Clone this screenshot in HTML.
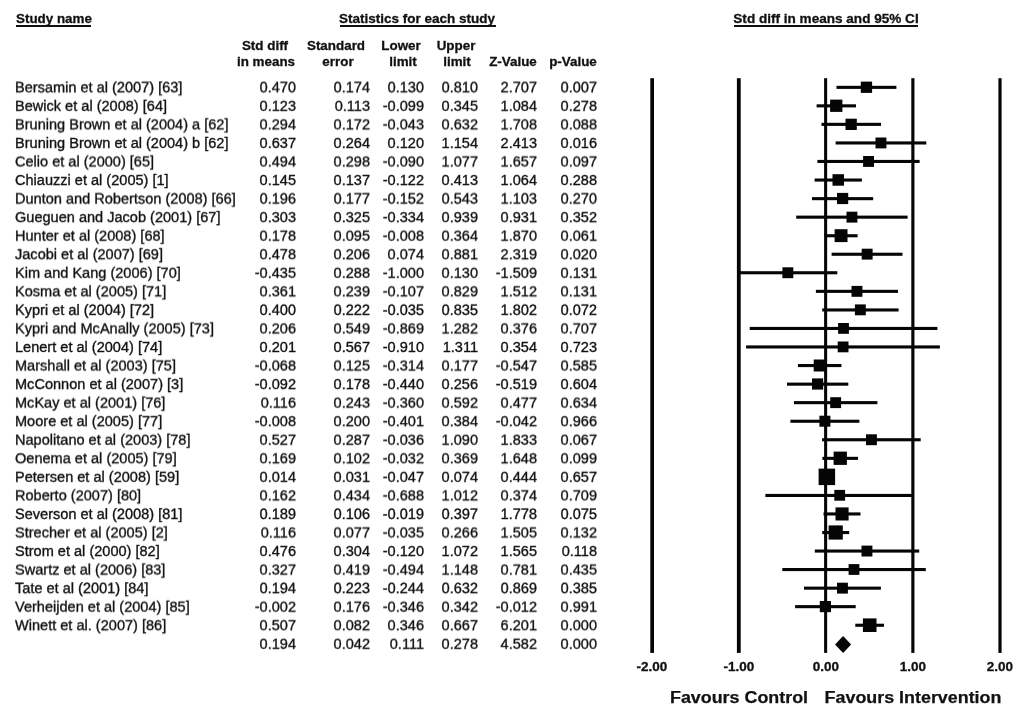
<!DOCTYPE html>
<html><head><meta charset="utf-8"><title>Forest plot</title>
<style>
html,body{margin:0;padding:0;background:#fff;}
body{width:1019px;height:712px;position:relative;overflow:hidden;font-family:"Liberation Sans",sans-serif;color:#111;}
.t{position:absolute;white-space:nowrap;line-height:1;}
.r{font-size:14.9px;transform:scaleX(0.977);-webkit-text-stroke:0.35px #111;}
.l{transform-origin:0 50%;}
.rt{transform-origin:100% 50%;text-align:right;}
.b{font-weight:bold;font-size:13.0px;transform:scaleX(1.03);-webkit-text-stroke:0.3px #111;}
.c{transform-origin:50% 50%;text-align:center;}
.u{position:absolute;background:#111;height:1.7px;}
svg{position:absolute;left:0;top:0;}
.row{position:absolute;left:0;top:0;width:620px;height:20px;}
</style></head><body><div id="wrap" style="position:absolute;left:0;top:0;width:1019px;height:712px;will-change:transform;">

<div class="t b l" style="left:15.6px;top:11.90px">Study name</div>
<div class="u" style="left:15.9px;top:25.2px;width:75.4px"></div>
<div class="t b c" style="left:316.8px;width:200px;transform:scaleX(1.038);top:12.00px">Statistics for each study</div>
<div class="u" style="left:339.5px;top:25.2px;width:156.4px"></div>
<div class="t b c" style="left:725.6px;width:200px;transform:scaleX(1.043);top:12.00px">Std diff in means and 95% CI</div>
<div class="u" style="left:733.5px;top:25.2px;width:184px"></div>
<div class="t b c" style="left:214.60px;width:100px;top:39.00px">Std diff</div>
<div class="t b c" style="left:216.30px;width:100px;top:55.00px">in means</div>
<div class="t b c" style="left:286.10px;width:100px;top:39.00px">Standard</div>
<div class="t b c" style="left:288.10px;width:100px;top:55.00px">error</div>
<div class="t b c" style="left:350.90px;width:100px;top:39.00px">Lower</div>
<div class="t b c" style="left:352.80px;width:100px;top:55.00px">limit</div>
<div class="t b c" style="left:405.90px;width:100px;top:39.00px">Upper</div>
<div class="t b c" style="left:406.90px;width:100px;top:55.00px">limit</div>
<div class="t b c" style="left:463.00px;width:100px;top:55.00px">Z-Value</div>
<div class="t b c" style="left:523.35px;width:100px;top:55.00px">p-Value</div>
<div class="row" style="transform:translateY(80.30px) matrix3d(1,0,0,0,0,1,0,0.00001,0,0,1,0,0,0,0,1)">
<div class="t r l" style="left:15.4px;top:0">Bersamin et al (2007) [63]</div>
<div class="t r rt" style="left:196.0px;width:100px;top:0">0.470</div>
<div class="t r rt" style="left:269.5px;width:100px;top:0">0.174</div>
<div class="t r rt" style="left:324.2px;width:100px;top:0">0.130</div>
<div class="t r rt" style="left:377.8px;width:100px;top:0">0.810</div>
<div class="t r rt" style="left:437.4px;width:100px;top:0">2.707</div>
<div class="t r rt" style="left:496.8px;width:100px;top:0">0.007</div>
</div>
<div class="row" style="transform:translateY(98.85px) matrix3d(1,0,0,0,0,1,0,0.00001,0,0,1,0,0,0,0,1)">
<div class="t r l" style="left:15.4px;top:0">Bewick et al (2008) [64]</div>
<div class="t r rt" style="left:196.0px;width:100px;top:0">0.123</div>
<div class="t r rt" style="left:269.5px;width:100px;top:0">0.113</div>
<div class="t r rt" style="left:324.2px;width:100px;top:0">-0.099</div>
<div class="t r rt" style="left:377.8px;width:100px;top:0">0.345</div>
<div class="t r rt" style="left:437.4px;width:100px;top:0">1.084</div>
<div class="t r rt" style="left:496.8px;width:100px;top:0">0.278</div>
</div>
<div class="row" style="transform:translateY(117.40px) matrix3d(1,0,0,0,0,1,0,0.00001,0,0,1,0,0,0,0,1)">
<div class="t r l" style="left:15.4px;top:0">Bruning Brown et al (2004) a [62]</div>
<div class="t r rt" style="left:196.0px;width:100px;top:0">0.294</div>
<div class="t r rt" style="left:269.5px;width:100px;top:0">0.172</div>
<div class="t r rt" style="left:324.2px;width:100px;top:0">-0.043</div>
<div class="t r rt" style="left:377.8px;width:100px;top:0">0.632</div>
<div class="t r rt" style="left:437.4px;width:100px;top:0">1.708</div>
<div class="t r rt" style="left:496.8px;width:100px;top:0">0.088</div>
</div>
<div class="row" style="transform:translateY(135.95px) matrix3d(1,0,0,0,0,1,0,0.00001,0,0,1,0,0,0,0,1)">
<div class="t r l" style="left:15.4px;top:0">Bruning Brown et al (2004) b [62]</div>
<div class="t r rt" style="left:196.0px;width:100px;top:0">0.637</div>
<div class="t r rt" style="left:269.5px;width:100px;top:0">0.264</div>
<div class="t r rt" style="left:324.2px;width:100px;top:0">0.120</div>
<div class="t r rt" style="left:377.8px;width:100px;top:0">1.154</div>
<div class="t r rt" style="left:437.4px;width:100px;top:0">2.413</div>
<div class="t r rt" style="left:496.8px;width:100px;top:0">0.016</div>
</div>
<div class="row" style="transform:translateY(154.50px) matrix3d(1,0,0,0,0,1,0,0.00001,0,0,1,0,0,0,0,1)">
<div class="t r l" style="left:15.4px;top:0">Celio et al (2000) [65]</div>
<div class="t r rt" style="left:196.0px;width:100px;top:0">0.494</div>
<div class="t r rt" style="left:269.5px;width:100px;top:0">0.298</div>
<div class="t r rt" style="left:324.2px;width:100px;top:0">-0.090</div>
<div class="t r rt" style="left:377.8px;width:100px;top:0">1.077</div>
<div class="t r rt" style="left:437.4px;width:100px;top:0">1.657</div>
<div class="t r rt" style="left:496.8px;width:100px;top:0">0.097</div>
</div>
<div class="row" style="transform:translateY(173.05px) matrix3d(1,0,0,0,0,1,0,0.00001,0,0,1,0,0,0,0,1)">
<div class="t r l" style="left:15.4px;top:0">Chiauzzi et al (2005) [1]</div>
<div class="t r rt" style="left:196.0px;width:100px;top:0">0.145</div>
<div class="t r rt" style="left:269.5px;width:100px;top:0">0.137</div>
<div class="t r rt" style="left:324.2px;width:100px;top:0">-0.122</div>
<div class="t r rt" style="left:377.8px;width:100px;top:0">0.413</div>
<div class="t r rt" style="left:437.4px;width:100px;top:0">1.064</div>
<div class="t r rt" style="left:496.8px;width:100px;top:0">0.288</div>
</div>
<div class="row" style="transform:translateY(191.60px) matrix3d(1,0,0,0,0,1,0,0.00001,0,0,1,0,0,0,0,1)">
<div class="t r l" style="left:15.4px;top:0">Dunton and Robertson (2008) [66]</div>
<div class="t r rt" style="left:196.0px;width:100px;top:0">0.196</div>
<div class="t r rt" style="left:269.5px;width:100px;top:0">0.177</div>
<div class="t r rt" style="left:324.2px;width:100px;top:0">-0.152</div>
<div class="t r rt" style="left:377.8px;width:100px;top:0">0.543</div>
<div class="t r rt" style="left:437.4px;width:100px;top:0">1.103</div>
<div class="t r rt" style="left:496.8px;width:100px;top:0">0.270</div>
</div>
<div class="row" style="transform:translateY(210.15px) matrix3d(1,0,0,0,0,1,0,0.00001,0,0,1,0,0,0,0,1)">
<div class="t r l" style="left:15.4px;top:0">Gueguen and Jacob (2001) [67]</div>
<div class="t r rt" style="left:196.0px;width:100px;top:0">0.303</div>
<div class="t r rt" style="left:269.5px;width:100px;top:0">0.325</div>
<div class="t r rt" style="left:324.2px;width:100px;top:0">-0.334</div>
<div class="t r rt" style="left:377.8px;width:100px;top:0">0.939</div>
<div class="t r rt" style="left:437.4px;width:100px;top:0">0.931</div>
<div class="t r rt" style="left:496.8px;width:100px;top:0">0.352</div>
</div>
<div class="row" style="transform:translateY(228.70px) matrix3d(1,0,0,0,0,1,0,0.00001,0,0,1,0,0,0,0,1)">
<div class="t r l" style="left:15.4px;top:0">Hunter et al (2008) [68]</div>
<div class="t r rt" style="left:196.0px;width:100px;top:0">0.178</div>
<div class="t r rt" style="left:269.5px;width:100px;top:0">0.095</div>
<div class="t r rt" style="left:324.2px;width:100px;top:0">-0.008</div>
<div class="t r rt" style="left:377.8px;width:100px;top:0">0.364</div>
<div class="t r rt" style="left:437.4px;width:100px;top:0">1.870</div>
<div class="t r rt" style="left:496.8px;width:100px;top:0">0.061</div>
</div>
<div class="row" style="transform:translateY(247.25px) matrix3d(1,0,0,0,0,1,0,0.00001,0,0,1,0,0,0,0,1)">
<div class="t r l" style="left:15.4px;top:0">Jacobi et al (2007) [69]</div>
<div class="t r rt" style="left:196.0px;width:100px;top:0">0.478</div>
<div class="t r rt" style="left:269.5px;width:100px;top:0">0.206</div>
<div class="t r rt" style="left:324.2px;width:100px;top:0">0.074</div>
<div class="t r rt" style="left:377.8px;width:100px;top:0">0.881</div>
<div class="t r rt" style="left:437.4px;width:100px;top:0">2.319</div>
<div class="t r rt" style="left:496.8px;width:100px;top:0">0.020</div>
</div>
<div class="row" style="transform:translateY(265.80px) matrix3d(1,0,0,0,0,1,0,0.00001,0,0,1,0,0,0,0,1)">
<div class="t r l" style="left:15.4px;top:0">Kim and Kang (2006) [70]</div>
<div class="t r rt" style="left:196.0px;width:100px;top:0">-0.435</div>
<div class="t r rt" style="left:269.5px;width:100px;top:0">0.288</div>
<div class="t r rt" style="left:324.2px;width:100px;top:0">-1.000</div>
<div class="t r rt" style="left:377.8px;width:100px;top:0">0.130</div>
<div class="t r rt" style="left:437.4px;width:100px;top:0">-1.509</div>
<div class="t r rt" style="left:496.8px;width:100px;top:0">0.131</div>
</div>
<div class="row" style="transform:translateY(284.35px) matrix3d(1,0,0,0,0,1,0,0.00001,0,0,1,0,0,0,0,1)">
<div class="t r l" style="left:15.4px;top:0">Kosma et al (2005) [71]</div>
<div class="t r rt" style="left:196.0px;width:100px;top:0">0.361</div>
<div class="t r rt" style="left:269.5px;width:100px;top:0">0.239</div>
<div class="t r rt" style="left:324.2px;width:100px;top:0">-0.107</div>
<div class="t r rt" style="left:377.8px;width:100px;top:0">0.829</div>
<div class="t r rt" style="left:437.4px;width:100px;top:0">1.512</div>
<div class="t r rt" style="left:496.8px;width:100px;top:0">0.131</div>
</div>
<div class="row" style="transform:translateY(302.90px) matrix3d(1,0,0,0,0,1,0,0.00001,0,0,1,0,0,0,0,1)">
<div class="t r l" style="left:15.4px;top:0">Kypri et al (2004) [72]</div>
<div class="t r rt" style="left:196.0px;width:100px;top:0">0.400</div>
<div class="t r rt" style="left:269.5px;width:100px;top:0">0.222</div>
<div class="t r rt" style="left:324.2px;width:100px;top:0">-0.035</div>
<div class="t r rt" style="left:377.8px;width:100px;top:0">0.835</div>
<div class="t r rt" style="left:437.4px;width:100px;top:0">1.802</div>
<div class="t r rt" style="left:496.8px;width:100px;top:0">0.072</div>
</div>
<div class="row" style="transform:translateY(321.45px) matrix3d(1,0,0,0,0,1,0,0.00001,0,0,1,0,0,0,0,1)">
<div class="t r l" style="left:15.4px;top:0">Kypri and McAnally (2005) [73]</div>
<div class="t r rt" style="left:196.0px;width:100px;top:0">0.206</div>
<div class="t r rt" style="left:269.5px;width:100px;top:0">0.549</div>
<div class="t r rt" style="left:324.2px;width:100px;top:0">-0.869</div>
<div class="t r rt" style="left:377.8px;width:100px;top:0">1.282</div>
<div class="t r rt" style="left:437.4px;width:100px;top:0">0.376</div>
<div class="t r rt" style="left:496.8px;width:100px;top:0">0.707</div>
</div>
<div class="row" style="transform:translateY(340.00px) matrix3d(1,0,0,0,0,1,0,0.00001,0,0,1,0,0,0,0,1)">
<div class="t r l" style="left:15.4px;top:0">Lenert et al (2004) [74]</div>
<div class="t r rt" style="left:196.0px;width:100px;top:0">0.201</div>
<div class="t r rt" style="left:269.5px;width:100px;top:0">0.567</div>
<div class="t r rt" style="left:324.2px;width:100px;top:0">-0.910</div>
<div class="t r rt" style="left:377.8px;width:100px;top:0">1.311</div>
<div class="t r rt" style="left:437.4px;width:100px;top:0">0.354</div>
<div class="t r rt" style="left:496.8px;width:100px;top:0">0.723</div>
</div>
<div class="row" style="transform:translateY(358.55px) matrix3d(1,0,0,0,0,1,0,0.00001,0,0,1,0,0,0,0,1)">
<div class="t r l" style="left:15.4px;top:0">Marshall et al (2003) [75]</div>
<div class="t r rt" style="left:196.0px;width:100px;top:0">-0.068</div>
<div class="t r rt" style="left:269.5px;width:100px;top:0">0.125</div>
<div class="t r rt" style="left:324.2px;width:100px;top:0">-0.314</div>
<div class="t r rt" style="left:377.8px;width:100px;top:0">0.177</div>
<div class="t r rt" style="left:437.4px;width:100px;top:0">-0.547</div>
<div class="t r rt" style="left:496.8px;width:100px;top:0">0.585</div>
</div>
<div class="row" style="transform:translateY(377.10px) matrix3d(1,0,0,0,0,1,0,0.00001,0,0,1,0,0,0,0,1)">
<div class="t r l" style="left:15.4px;top:0">McConnon et al (2007) [3]</div>
<div class="t r rt" style="left:196.0px;width:100px;top:0">-0.092</div>
<div class="t r rt" style="left:269.5px;width:100px;top:0">0.178</div>
<div class="t r rt" style="left:324.2px;width:100px;top:0">-0.440</div>
<div class="t r rt" style="left:377.8px;width:100px;top:0">0.256</div>
<div class="t r rt" style="left:437.4px;width:100px;top:0">-0.519</div>
<div class="t r rt" style="left:496.8px;width:100px;top:0">0.604</div>
</div>
<div class="row" style="transform:translateY(395.65px) matrix3d(1,0,0,0,0,1,0,0.00001,0,0,1,0,0,0,0,1)">
<div class="t r l" style="left:15.4px;top:0">McKay et al (2001) [76]</div>
<div class="t r rt" style="left:196.0px;width:100px;top:0">0.116</div>
<div class="t r rt" style="left:269.5px;width:100px;top:0">0.243</div>
<div class="t r rt" style="left:324.2px;width:100px;top:0">-0.360</div>
<div class="t r rt" style="left:377.8px;width:100px;top:0">0.592</div>
<div class="t r rt" style="left:437.4px;width:100px;top:0">0.477</div>
<div class="t r rt" style="left:496.8px;width:100px;top:0">0.634</div>
</div>
<div class="row" style="transform:translateY(414.20px) matrix3d(1,0,0,0,0,1,0,0.00001,0,0,1,0,0,0,0,1)">
<div class="t r l" style="left:15.4px;top:0">Moore et al (2005) [77]</div>
<div class="t r rt" style="left:196.0px;width:100px;top:0">-0.008</div>
<div class="t r rt" style="left:269.5px;width:100px;top:0">0.200</div>
<div class="t r rt" style="left:324.2px;width:100px;top:0">-0.401</div>
<div class="t r rt" style="left:377.8px;width:100px;top:0">0.384</div>
<div class="t r rt" style="left:437.4px;width:100px;top:0">-0.042</div>
<div class="t r rt" style="left:496.8px;width:100px;top:0">0.966</div>
</div>
<div class="row" style="transform:translateY(432.75px) matrix3d(1,0,0,0,0,1,0,0.00001,0,0,1,0,0,0,0,1)">
<div class="t r l" style="left:15.4px;top:0">Napolitano et al (2003) [78]</div>
<div class="t r rt" style="left:196.0px;width:100px;top:0">0.527</div>
<div class="t r rt" style="left:269.5px;width:100px;top:0">0.287</div>
<div class="t r rt" style="left:324.2px;width:100px;top:0">-0.036</div>
<div class="t r rt" style="left:377.8px;width:100px;top:0">1.090</div>
<div class="t r rt" style="left:437.4px;width:100px;top:0">1.833</div>
<div class="t r rt" style="left:496.8px;width:100px;top:0">0.067</div>
</div>
<div class="row" style="transform:translateY(451.30px) matrix3d(1,0,0,0,0,1,0,0.00001,0,0,1,0,0,0,0,1)">
<div class="t r l" style="left:15.4px;top:0">Oenema et al (2005) [79]</div>
<div class="t r rt" style="left:196.0px;width:100px;top:0">0.169</div>
<div class="t r rt" style="left:269.5px;width:100px;top:0">0.102</div>
<div class="t r rt" style="left:324.2px;width:100px;top:0">-0.032</div>
<div class="t r rt" style="left:377.8px;width:100px;top:0">0.369</div>
<div class="t r rt" style="left:437.4px;width:100px;top:0">1.648</div>
<div class="t r rt" style="left:496.8px;width:100px;top:0">0.099</div>
</div>
<div class="row" style="transform:translateY(469.85px) matrix3d(1,0,0,0,0,1,0,0.00001,0,0,1,0,0,0,0,1)">
<div class="t r l" style="left:15.4px;top:0">Petersen et al (2008) [59]</div>
<div class="t r rt" style="left:196.0px;width:100px;top:0">0.014</div>
<div class="t r rt" style="left:269.5px;width:100px;top:0">0.031</div>
<div class="t r rt" style="left:324.2px;width:100px;top:0">-0.047</div>
<div class="t r rt" style="left:377.8px;width:100px;top:0">0.074</div>
<div class="t r rt" style="left:437.4px;width:100px;top:0">0.444</div>
<div class="t r rt" style="left:496.8px;width:100px;top:0">0.657</div>
</div>
<div class="row" style="transform:translateY(488.40px) matrix3d(1,0,0,0,0,1,0,0.00001,0,0,1,0,0,0,0,1)">
<div class="t r l" style="left:15.4px;top:0">Roberto (2007) [80]</div>
<div class="t r rt" style="left:196.0px;width:100px;top:0">0.162</div>
<div class="t r rt" style="left:269.5px;width:100px;top:0">0.434</div>
<div class="t r rt" style="left:324.2px;width:100px;top:0">-0.688</div>
<div class="t r rt" style="left:377.8px;width:100px;top:0">1.012</div>
<div class="t r rt" style="left:437.4px;width:100px;top:0">0.374</div>
<div class="t r rt" style="left:496.8px;width:100px;top:0">0.709</div>
</div>
<div class="row" style="transform:translateY(506.95px) matrix3d(1,0,0,0,0,1,0,0.00001,0,0,1,0,0,0,0,1)">
<div class="t r l" style="left:15.4px;top:0">Severson et al (2008) [81]</div>
<div class="t r rt" style="left:196.0px;width:100px;top:0">0.189</div>
<div class="t r rt" style="left:269.5px;width:100px;top:0">0.106</div>
<div class="t r rt" style="left:324.2px;width:100px;top:0">-0.019</div>
<div class="t r rt" style="left:377.8px;width:100px;top:0">0.397</div>
<div class="t r rt" style="left:437.4px;width:100px;top:0">1.778</div>
<div class="t r rt" style="left:496.8px;width:100px;top:0">0.075</div>
</div>
<div class="row" style="transform:translateY(525.50px) matrix3d(1,0,0,0,0,1,0,0.00001,0,0,1,0,0,0,0,1)">
<div class="t r l" style="left:15.4px;top:0">Strecher et al (2005) [2]</div>
<div class="t r rt" style="left:196.0px;width:100px;top:0">0.116</div>
<div class="t r rt" style="left:269.5px;width:100px;top:0">0.077</div>
<div class="t r rt" style="left:324.2px;width:100px;top:0">-0.035</div>
<div class="t r rt" style="left:377.8px;width:100px;top:0">0.266</div>
<div class="t r rt" style="left:437.4px;width:100px;top:0">1.505</div>
<div class="t r rt" style="left:496.8px;width:100px;top:0">0.132</div>
</div>
<div class="row" style="transform:translateY(544.05px) matrix3d(1,0,0,0,0,1,0,0.00001,0,0,1,0,0,0,0,1)">
<div class="t r l" style="left:15.4px;top:0">Strom et al (2000) [82]</div>
<div class="t r rt" style="left:196.0px;width:100px;top:0">0.476</div>
<div class="t r rt" style="left:269.5px;width:100px;top:0">0.304</div>
<div class="t r rt" style="left:324.2px;width:100px;top:0">-0.120</div>
<div class="t r rt" style="left:377.8px;width:100px;top:0">1.072</div>
<div class="t r rt" style="left:437.4px;width:100px;top:0">1.565</div>
<div class="t r rt" style="left:496.8px;width:100px;top:0">0.118</div>
</div>
<div class="row" style="transform:translateY(562.60px) matrix3d(1,0,0,0,0,1,0,0.00001,0,0,1,0,0,0,0,1)">
<div class="t r l" style="left:15.4px;top:0">Swartz et al (2006) [83]</div>
<div class="t r rt" style="left:196.0px;width:100px;top:0">0.327</div>
<div class="t r rt" style="left:269.5px;width:100px;top:0">0.419</div>
<div class="t r rt" style="left:324.2px;width:100px;top:0">-0.494</div>
<div class="t r rt" style="left:377.8px;width:100px;top:0">1.148</div>
<div class="t r rt" style="left:437.4px;width:100px;top:0">0.781</div>
<div class="t r rt" style="left:496.8px;width:100px;top:0">0.435</div>
</div>
<div class="row" style="transform:translateY(581.15px) matrix3d(1,0,0,0,0,1,0,0.00001,0,0,1,0,0,0,0,1)">
<div class="t r l" style="left:15.4px;top:0">Tate et al (2001) [84]</div>
<div class="t r rt" style="left:196.0px;width:100px;top:0">0.194</div>
<div class="t r rt" style="left:269.5px;width:100px;top:0">0.223</div>
<div class="t r rt" style="left:324.2px;width:100px;top:0">-0.244</div>
<div class="t r rt" style="left:377.8px;width:100px;top:0">0.632</div>
<div class="t r rt" style="left:437.4px;width:100px;top:0">0.869</div>
<div class="t r rt" style="left:496.8px;width:100px;top:0">0.385</div>
</div>
<div class="row" style="transform:translateY(599.70px) matrix3d(1,0,0,0,0,1,0,0.00001,0,0,1,0,0,0,0,1)">
<div class="t r l" style="left:15.4px;top:0">Verheijden et al (2004) [85]</div>
<div class="t r rt" style="left:196.0px;width:100px;top:0">-0.002</div>
<div class="t r rt" style="left:269.5px;width:100px;top:0">0.176</div>
<div class="t r rt" style="left:324.2px;width:100px;top:0">-0.346</div>
<div class="t r rt" style="left:377.8px;width:100px;top:0">0.342</div>
<div class="t r rt" style="left:437.4px;width:100px;top:0">-0.012</div>
<div class="t r rt" style="left:496.8px;width:100px;top:0">0.991</div>
</div>
<div class="row" style="transform:translateY(618.25px) matrix3d(1,0,0,0,0,1,0,0.00001,0,0,1,0,0,0,0,1)">
<div class="t r l" style="left:15.4px;top:0">Winett et al. (2007) [86]</div>
<div class="t r rt" style="left:196.0px;width:100px;top:0">0.507</div>
<div class="t r rt" style="left:269.5px;width:100px;top:0">0.082</div>
<div class="t r rt" style="left:324.2px;width:100px;top:0">0.346</div>
<div class="t r rt" style="left:377.8px;width:100px;top:0">0.667</div>
<div class="t r rt" style="left:437.4px;width:100px;top:0">6.201</div>
<div class="t r rt" style="left:496.8px;width:100px;top:0">0.000</div>
</div>
<div class="row" style="transform:translateY(636.80px) matrix3d(1,0,0,0,0,1,0,0.00001,0,0,1,0,0,0,0,1)">
<div class="t r rt" style="left:196.0px;width:100px;top:0">0.194</div>
<div class="t r rt" style="left:269.5px;width:100px;top:0">0.042</div>
<div class="t r rt" style="left:324.2px;width:100px;top:0">0.111</div>
<div class="t r rt" style="left:377.8px;width:100px;top:0">0.278</div>
<div class="t r rt" style="left:437.4px;width:100px;top:0">4.582</div>
<div class="t r rt" style="left:496.8px;width:100px;top:0">0.000</div>
</div>
<svg width="1019" height="712" viewBox="0 0 1019 712">
<rect x="650.30" y="78.2" width="3.70" height="574.7" fill="#050505"/>
<rect x="736.90" y="78.2" width="3.80" height="574.7" fill="#050505"/>
<rect x="824.10" y="78.2" width="3.05" height="574.7" fill="#050505"/>
<rect x="911.30" y="78.2" width="3.15" height="574.7" fill="#050505"/>
<rect x="998.40" y="78.2" width="3.20" height="574.7" fill="#050505"/>
<rect x="836.5" y="85.8" width="59.9" height="3.1" fill="#050505"/>
<rect x="860.8" y="81.6" width="11.3" height="11.3" fill="#050505"/>
<rect x="816.6" y="104.3" width="39.4" height="3.1" fill="#050505"/>
<rect x="830.1" y="99.6" width="12.3" height="12.3" fill="#050505"/>
<rect x="821.5" y="122.8" width="59.5" height="3.1" fill="#050505"/>
<rect x="845.5" y="118.7" width="11.3" height="11.3" fill="#050505"/>
<rect x="835.6" y="141.4" width="90.7" height="3.1" fill="#050505"/>
<rect x="875.5" y="137.5" width="10.9" height="10.9" fill="#050505"/>
<rect x="817.4" y="159.9" width="102.2" height="3.1" fill="#050505"/>
<rect x="863.1" y="156.0" width="10.9" height="10.9" fill="#050505"/>
<rect x="814.6" y="178.5" width="47.3" height="3.1" fill="#050505"/>
<rect x="832.5" y="174.2" width="11.5" height="11.5" fill="#050505"/>
<rect x="812.0" y="197.1" width="61.2" height="3.1" fill="#050505"/>
<rect x="837.0" y="192.9" width="11.2" height="11.2" fill="#050505"/>
<rect x="796.2" y="215.6" width="111.4" height="3.1" fill="#050505"/>
<rect x="846.5" y="211.7" width="10.9" height="10.9" fill="#050505"/>
<rect x="824.5" y="234.2" width="33.1" height="3.1" fill="#050505"/>
<rect x="834.6" y="229.2" width="12.9" height="12.9" fill="#050505"/>
<rect x="831.6" y="252.7" width="70.9" height="3.1" fill="#050505"/>
<rect x="861.7" y="248.7" width="10.9" height="10.9" fill="#050505"/>
<rect x="738.3" y="271.2" width="99.0" height="3.1" fill="#050505"/>
<rect x="782.4" y="267.3" width="10.9" height="10.9" fill="#050505"/>
<rect x="815.9" y="289.8" width="82.1" height="3.1" fill="#050505"/>
<rect x="851.5" y="285.9" width="10.9" height="10.9" fill="#050505"/>
<rect x="822.2" y="308.4" width="76.4" height="3.1" fill="#050505"/>
<rect x="854.9" y="304.4" width="10.9" height="10.9" fill="#050505"/>
<rect x="749.7" y="326.9" width="187.7" height="3.1" fill="#050505"/>
<rect x="838.1" y="323.0" width="10.8" height="10.8" fill="#050505"/>
<rect x="746.1" y="345.4" width="193.8" height="3.1" fill="#050505"/>
<rect x="837.7" y="341.5" width="10.8" height="10.8" fill="#050505"/>
<rect x="797.9" y="364.0" width="43.5" height="3.1" fill="#050505"/>
<rect x="813.7" y="359.5" width="12.0" height="12.0" fill="#050505"/>
<rect x="787.0" y="382.6" width="61.3" height="3.1" fill="#050505"/>
<rect x="812.0" y="378.4" width="11.2" height="11.2" fill="#050505"/>
<rect x="793.9" y="401.1" width="83.5" height="3.1" fill="#050505"/>
<rect x="830.2" y="397.2" width="10.9" height="10.9" fill="#050505"/>
<rect x="790.4" y="419.7" width="69.0" height="3.1" fill="#050505"/>
<rect x="819.4" y="415.7" width="11.0" height="11.0" fill="#050505"/>
<rect x="822.1" y="438.2" width="98.6" height="3.1" fill="#050505"/>
<rect x="866.0" y="434.3" width="10.9" height="10.9" fill="#050505"/>
<rect x="822.4" y="456.8" width="35.6" height="3.1" fill="#050505"/>
<rect x="833.6" y="451.6" width="13.3" height="13.3" fill="#050505"/>
<rect x="821.1" y="475.3" width="11.3" height="3.1" fill="#050505"/>
<rect x="818.6" y="468.6" width="16.5" height="16.5" fill="#050505"/>
<rect x="765.4" y="493.9" width="148.5" height="3.1" fill="#050505"/>
<rect x="834.3" y="489.9" width="10.8" height="10.8" fill="#050505"/>
<rect x="823.5" y="512.4" width="37.0" height="3.1" fill="#050505"/>
<rect x="835.5" y="507.4" width="13.1" height="13.1" fill="#050505"/>
<rect x="822.2" y="531.0" width="27.0" height="3.1" fill="#050505"/>
<rect x="828.6" y="525.4" width="14.2" height="14.2" fill="#050505"/>
<rect x="814.8" y="549.5" width="104.4" height="3.1" fill="#050505"/>
<rect x="861.5" y="545.6" width="10.9" height="10.9" fill="#050505"/>
<rect x="782.3" y="568.0" width="143.5" height="3.1" fill="#050505"/>
<rect x="848.6" y="564.1" width="10.8" height="10.8" fill="#050505"/>
<rect x="804.0" y="586.6" width="76.9" height="3.1" fill="#050505"/>
<rect x="837.0" y="582.7" width="10.9" height="10.9" fill="#050505"/>
<rect x="795.1" y="605.1" width="60.6" height="3.1" fill="#050505"/>
<rect x="819.8" y="601.0" width="11.2" height="11.2" fill="#050505"/>
<rect x="855.3" y="623.7" width="28.7" height="3.1" fill="#050505"/>
<rect x="862.9" y="618.4" width="13.6" height="13.6" fill="#050505"/>
<polygon points="835.1,644.4 843.1,635.9 851.1,644.4 843.1,652.9" fill="#050505"/>
</svg>
<div class="t c" style="font-weight:bold;font-size:13.1px;transform:scaleX(1.03);-webkit-text-stroke:0.3px #111;left:602.3px;width:100px;top:659.91px">-2.00</div>
<div class="t c" style="font-weight:bold;font-size:13.1px;transform:scaleX(1.03);-webkit-text-stroke:0.3px #111;left:688.8px;width:100px;top:659.91px">-1.00</div>
<div class="t c" style="font-weight:bold;font-size:13.1px;transform:scaleX(1.03);-webkit-text-stroke:0.3px #111;left:775.8px;width:100px;top:659.91px">0.00</div>
<div class="t c" style="font-weight:bold;font-size:13.1px;transform:scaleX(1.03);-webkit-text-stroke:0.3px #111;left:862.6px;width:100px;top:659.91px">1.00</div>
<div class="t c" style="font-weight:bold;font-size:13.1px;transform:scaleX(1.03);-webkit-text-stroke:0.3px #111;left:950.2px;width:100px;top:659.91px">2.00</div>
<div class="t c" style="font-weight:bold;font-size:17.2px;transform:scaleX(1.04);-webkit-text-stroke:0.25px #111;left:638.8px;width:200px;top:688.84px">Favours Control</div>
<div class="t c" style="font-weight:bold;font-size:17.2px;transform:scaleX(1.04);-webkit-text-stroke:0.25px #111;left:812.9px;width:200px;top:688.84px">Favours Intervention</div>
</div></body></html>
